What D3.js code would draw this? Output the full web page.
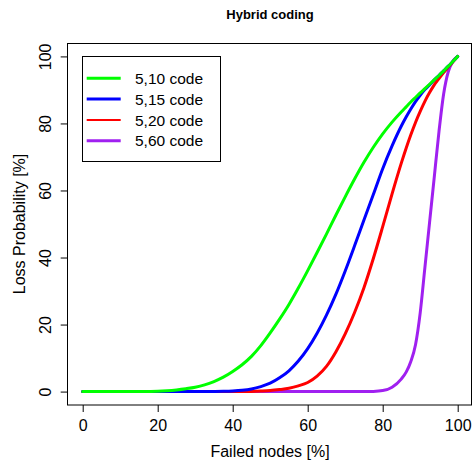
<!DOCTYPE html>
<html>
<head>
<meta charset="utf-8">
<script src="https://cdn.jsdelivr.net/npm/d3@7"></script>
<style>
  body { margin: 0; background: #fff; }
  text { font-family: "Liberation Sans", Arial, Helvetica, sans-serif; fill: #000; }
</style>
</head>
<body>
<div id="chart"></div>
<script>
"use strict";

// failed nodes [%] (finer steps where the curves climb fast)
const failedPct = [0, 2.5, 5, 7.5, 10, 12.5, 15, 17.5, 20, 22.5, 25, 27.5, 30, 32.5, 35, 37.5,
    40, 42.5, 45, 47.5, 50, 52.5, 55, 57.5, 60, 62.5, 65, 67.5, 70, 72.5, 75, 77.5, 80, 82.5, 85,
    86.25, 87.5, 88.75, 90, 91.25, 92.5, 93.75, 95, 96.25, 97.5, 98.75, 100];

// loss probability [%]
const code5_10 = [0, 0, 0, 0, 0, 0, 0.02, 0.05, 0.1, 0.25, 0.5, 0.85, 1.3, 2.0, 3.0, 4.3,
    6.0, 8.0, 10.5, 13.7, 17.5, 21.6, 26, 30.9, 36.1, 41.5, 47, 52.6, 58.1, 63.4, 68.4, 72.9, 76.9, 80.4, 83.5,
    84.95, 86.4, 87.75, 89.1, 90.4, 91.7, 93, 94.3, 95.7, 97.1, 98.55, 100];
const code5_15 = [0, 0, 0, 0, 0, 0, 0, 0, 0, 0, 0, 0, 0, 0.02, 0.05, 0.1,
    0.2, 0.4, 0.8, 1.5, 2.5, 4.1, 6.2, 9.1, 12.8, 17.4, 22.8, 29, 36, 43.5, 51.2, 58.8, 66.5, 73.3, 79.3,
    81.9, 84.3, 86.5, 88.4, 90.1, 91.5, 93, 94.3, 95.7, 97.1, 98.55, 100];
const code5_20 = [0, 0, 0, 0, 0, 0, 0, 0, 0, 0, 0, 0, 0, 0, 0, 0,
    0, 0.02, 0.05, 0.15, 0.3, 0.6, 1, 1.7, 2.7, 4.6, 7.5, 11.8, 17.2, 23.6, 31, 39.7, 49.2, 59, 68.3,
    72.6, 76.6, 80.3, 83.6, 86.6, 89.2, 91.5, 93.4, 95.2, 96.8, 98.4, 100];
const code5_60 = [0, 0, 0, 0, 0, 0, 0, 0, 0, 0, 0, 0, 0, 0, 0, 0,
    0, 0, 0, 0, 0, 0, 0, 0, 0, 0, 0, 0, 0, 0, 0, 0.05, 0.3, 1.3, 3.8,
    5.8, 9, 14, 23.5, 37, 50.5, 64, 77.5, 88.8, 95.5, 98.6, 100];

const seriesNames = ["5,10 code", "5,15 code", "5,20 code", "5,60 code"];
const seriesValues = [code5_10, code5_15, code5_20, code5_60];
const seriesColors = ["#00ff00", "#0000ff", "#ff0000", "#a020f0"];
const legendWidths = [3, 3, 2, 3];

const xTicks = [0, 20, 40, 60, 80, 100];
const yTicks = [0, 20, 40, 60, 80, 100];

const drawChart = () => {
    var width = 472,
        height = 469;

    var svg = d3.select("#chart")
        .append("svg")
        .attr("width", width)
        .attr("height", height);

    // R style: 4% padding on both ends
    var x = d3.scaleLinear().domain([-4, 104]).range([67.7, 472.7]);
    var y = d3.scaleLinear().domain([-4, 104]).range([405, 43]);

    // curves, green drawn last so it sits on top
    var line = d3.line()
        .x((d, i) => x(failedPct[i]))
        .y(d => y(d))
        .curve(d3.curveMonotoneX);

    var order = [3, 2, 1, 0];
    svg.append("g")
        .selectAll("path")
        .data(order)
        .enter()
        .append("path")
        .attr("fill", "none")
        .attr("stroke", i => seriesColors[i])
        .attr("stroke-width", 3)
        .attr("stroke-linejoin", "round")
        .attr("stroke-linecap", "round")
        .attr("d", i => line(seriesValues[i]));

    // plot box
    svg.append("rect")
        .attr("x", 67.5)
        .attr("y", 43.5)
        .attr("width", 404)
        .attr("height", 361.5)
        .attr("fill", "none")
        .attr("stroke", "#000")
        .attr("stroke-width", 1);

    var xAxis = svg.append("g")
        .attr("transform", "translate(0,405)")
        .call(d3.axisBottom(x).tickValues(xTicks).tickSize(7).tickPadding(8).tickSizeOuter(0));
    xAxis.select(".domain").remove();
    xAxis.selectAll("text").style("font-size", "16px").attr("fill", "#000");

    var yAxis = svg.append("g")
        .attr("transform", "translate(67.7,0)")
        .call(d3.axisLeft(y).tickValues(yTicks).tickSize(7).tickSizeOuter(0));
    yAxis.select(".domain").remove();
    yAxis.selectAll("text")
        .style("font-size", "16px")
        .attr("fill", "#000")
        .attr("x", null)
        .attr("dy", null)
        .attr("text-anchor", "middle")
        .attr("transform", "translate(-16.5,0) rotate(-90)");

    // title and axis labels
    svg.append("text")
        .attr("x", 270)
        .attr("y", 18.5)
        .attr("text-anchor", "middle")
        .style("font-size", "13px")
        .style("font-weight", "bold")
        .text("Hybrid coding");

    svg.append("text")
        .attr("x", 270)
        .attr("y", 457)
        .attr("text-anchor", "middle")
        .style("font-size", "16px")
        .text("Failed nodes [%]");

    svg.append("text")
        .attr("transform", "translate(24.5,224) rotate(-90)")
        .attr("text-anchor", "middle")
        .style("font-size", "16px")
        .text("Loss Probability [%]");

    // legend
    var legend = svg.append("g");
    legend.append("rect")
        .attr("x", 82.5)
        .attr("y", 56.5)
        .attr("width", 138)
        .attr("height", 105)
        .attr("fill", "#fff")
        .attr("stroke", "#000")
        .attr("stroke-width", 1);

    var rows = legend.selectAll("g.row")
        .data(seriesNames)
        .enter()
        .append("g")
        .attr("class", "row")
        .attr("transform", (d, i) => "translate(0," + (78.3 + i * 20.8) + ")");

    rows.append("line")
        .attr("x1", 86.7)
        .attr("x2", 120.7)
        .attr("stroke", (d, i) => seriesColors[i])
        .attr("stroke-width", (d, i) => legendWidths[i]);

    rows.append("text")
        .attr("x", 135)
        .attr("y", 5.6)
        .style("font-size", "15.5px")
        .text(d => d);
}

drawChart();
</script>
</body>
</html>
